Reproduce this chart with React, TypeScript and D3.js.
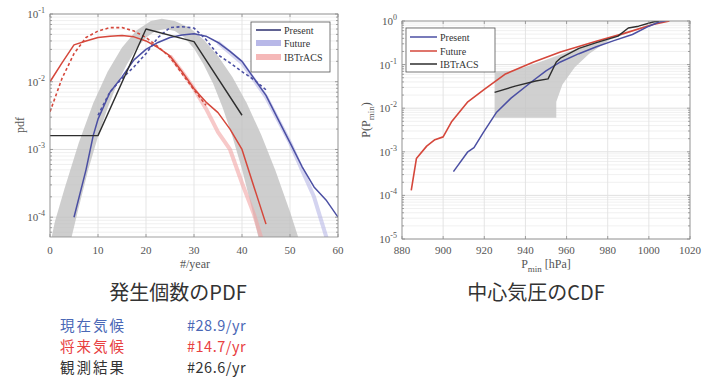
import React from 'react';
import * as d3 from 'd3';

// ---- left panel: pdf of yearly counts ----
const pdfXTicks = [0, 10, 20, 30, 40, 50, 60];
const pdfYTicks = [1e-4, 1e-3, 1e-2, 1e-1];
const pdfYExp = ['-4', '-3', '-2', '-1'];

const presentPdf: [number, number][] = [
  [5, 1.0e-4], [7.5, 5.0e-4], [9, 1.6e-3], [10, 2.8e-3], [12.5, 7.0e-3], [15, 0.0118],
  [17.5, 0.021], [20, 0.03], [22.5, 0.038], [25, 0.045], [27.5, 0.049], [30, 0.051],
  [32.5, 0.047], [35, 0.038], [37.5, 0.028], [40, 0.02], [42.5, 0.0112], [45, 6.3e-3],
  [47.5, 2.8e-3], [50, 1.26e-3], [52.5, 5.6e-4], [55, 2.8e-4], [57.5, 1.8e-4], [60, 1.0e-4],
];
const presentPdfDash: [number, number][] = [
  [10, 3.2e-3], [12.5, 7.1e-3], [15, 0.0112], [17.5, 0.0166], [20, 0.026], [22.5, 0.045],
  [25, 0.063], [27.5, 0.065], [30, 0.062], [32.5, 0.042], [35, 0.025], [37.5, 0.019],
  [40, 0.0141], [42.5, 0.0107], [45, 7.6e-3],
];
const futurePdf: [number, number][] = [
  [0, 0.01], [2.5, 0.019], [5, 0.035], [7.5, 0.04], [10, 0.045], [12.5, 0.047], [15, 0.048],
  [17.5, 0.046], [20, 0.04], [22.5, 0.032], [25, 0.024], [27.5, 0.0141], [30, 7.9e-3],
  [32.5, 5.0e-3], [35, 3.5e-3], [37.5, 2.0e-3], [40, 1.0e-3], [42.5, 2.8e-4], [45, 7.9e-5],
];
const futurePdfDash: [number, number][] = [
  [0, 3.6e-3], [2.5, 0.0112], [5, 0.026], [7.5, 0.045], [10, 0.056], [12.5, 0.063], [15, 0.063],
  [17.5, 0.056], [20, 0.045], [22.5, 0.033], [25, 0.023], [27.5, 0.0132], [30, 7.6e-3], [32.5, 4.5e-3],
];
const futurePdfFaint: [number, number][] = [
  [25, 0.024], [27.5, 0.0141], [30, 7.9e-3], [32.5, 4.0e-3], [35, 1.8e-3], [37.5, 1.0e-3],
  [40, 3.2e-4], [42.5, 1.1e-4], [44, 5.0e-5],
];
const presentPdfFaint: [number, number][] = [
  [35, 0.038], [40, 0.019], [45, 6.0e-3], [50, 1.26e-3], [52.5, 5.0e-4], [55, 2.0e-4], [57.6, 5.0e-5],
];
const obsPdf: [number, number][] = [[0, 1.6e-3], [10, 1.6e-3], [20, 0.06], [30, 0.039], [40, 3.2e-3]];

const bandOuter: [number, number][] = [
  [0.35, 5.1e-5], [1, 8.5e-5], [3, 2.6e-4], [6, 1.26e-3], [9, 4.8e-3], [12, 0.014], [15, 0.032],
  [18, 0.057], [21, 0.079], [23.3, 0.085], [26, 0.079], [29, 0.063], [32, 0.042], [35, 0.024],
  [38, 0.0117], [41, 4.8e-3], [44, 1.65e-3], [47, 4.8e-4], [50, 1.2e-4], [51.7, 5.1e-5],
];
const bandInner: [number, number][] = [
  [4.5, 5.1e-5], [6, 1.4e-4], [8, 5.1e-4], [10, 1.55e-3], [12, 4.1e-3], [14, 9.3e-3], [16, 0.018],
  [18, 0.031], [20, 0.045], [22, 0.056], [24, 0.06], [26, 0.056], [28, 0.045], [30, 0.031],
  [32, 0.018], [34, 9.3e-3], [36, 4.1e-3], [38, 1.55e-3], [40, 5.1e-4], [42, 1.4e-4], [43.4, 5.1e-5],
];

// ---- right panel: cdf of central pressure ----
const cdfXTicks = [880, 900, 920, 940, 960, 980, 1000, 1020];
const cdfYTicks = [1e-5, 1e-4, 1e-3, 1e-2, 1e-1, 1];
const cdfYExp = ['-5', '-4', '-3', '-2', '-1', '0'];

const presentCdf: [number, number][] = [
  [905, 3.5e-4], [912, 1.0e-3], [915, 1.25e-3], [919.5, 2.75e-3], [926, 8.1e-3], [933, 0.017],
  [943.5, 0.042], [950, 0.072], [957, 0.115], [966, 0.178], [974.5, 0.257], [983, 0.355],
  [992, 0.49], [1000, 0.76], [1005, 0.95], [1008, 1],
];
const futureCdf: [number, number][] = [
  [884.5, 1.3e-4], [887, 7e-4], [892, 1.35e-3], [896, 1.9e-3], [900, 2.2e-3], [904, 4.8e-3],
  [912, 0.014], [920, 0.027], [930, 0.06], [944, 0.115], [957, 0.195], [974, 0.34], [988, 0.52],
  [1002, 0.83], [1010, 1],
];
const obsCdf: [number, number][] = [
  [925, 0.023], [935, 0.032], [945, 0.042], [951, 0.047], [955, 0.115], [957, 0.14], [966, 0.235],
  [974.5, 0.32], [985, 0.45], [990, 0.69], [995, 0.76], [1002, 0.95], [1005, 1],
];
const cdfShadeTop: [number, number][] = [
  [925, 0.07], [933, 0.072], [940, 0.088], [948, 0.12], [957, 0.17], [966, 0.24], [975, 0.33],
  [985, 0.45], [995, 0.68], [1003, 0.95],
];
const cdfShadeBottom: [number, number][] = [
  [1003, 0.95], [1000, 0.83], [992, 0.575], [981, 0.37], [971, 0.178], [964, 0.087], [958, 0.035],
  [955, 0.014], [955, 0.006], [925, 0.006],
];

const summaryNames = ['現在気候', '将来気候', '観測結果'];
const summaryValues = ['#28.9/yr', '#14.7/yr', '#26.6/yr'];
const summaryColors = ['#4a68b6', '#e8403f', '#333333'];

const serif = '"Liberation Serif", "DejaVu Serif", serif';
const jp = '"Noto Sans CJK JP", "Noto Sans", sans-serif';
const BLUE = '#4b4fa3';
const RED = '#d5473b';
const DARK = '#2e2e2e';

export default function App() {
  // left scales
  const xL = d3.scaleLinear().domain([0, 60]).range([50, 338]);
  const yL = d3.scaleLog().domain([5.1e-5, 0.1]).range([237, 14]);
  // right scales
  const xR = d3.scaleLinear().domain([880, 1020]).range([402, 690]);
  const yR = d3.scaleLog().domain([1e-5, 1]).range([239, 21]);

  const lineL = d3.line<[number, number]>().x(d => xL(d[0])).y(d => yL(d[1]));
  const lineR = d3.line<[number, number]>().x(d => xR(d[0])).y(d => yR(d[1]));

  const bandPath = lineL([...bandOuter, ...bandInner.slice().reverse()]) + 'Z';
  const shadePath = lineR([...cdfShadeTop, ...cdfShadeBottom]) + 'Z';

  const isDecade = (v: number) => Math.abs(Math.log10(v) - Math.round(Math.log10(v))) < 1e-6;

  const grid = (
    x: d3.ScaleLinear<number, number>,
    y: d3.ScaleLogarithmic<number, number>,
    xTicks: number[],
  ) => {
    const [x0, x1] = x.range();
    const [y0, y1] = y.range();
    const minor = y.ticks().filter(v => !isDecade(v));
    const major = y.ticks().filter(isDecade);
    return (
      <g>
        <rect x={x0} y={y1} width={x1 - x0} height={y0 - y1} fill="#fff" />
        {minor.map((v, i) => (
          <line key={'m' + i} x1={x0} x2={x1} y1={y(v)} y2={y(v)} stroke="#ececec" strokeWidth={0.8} />
        ))}
        {major.map((v, i) => (
          <line key={'M' + i} x1={x0} x2={x1} y1={y(v)} y2={y(v)} stroke="#dcdcdc" strokeWidth={0.9} />
        ))}
        {xTicks.map((v, i) => (
          <line key={'v' + i} x1={x(v)} x2={x(v)} y1={y0} y2={y1} stroke="#e2e2e2" strokeWidth={0.9} />
        ))}
      </g>
    );
  };

  const frame = (
    x: d3.ScaleLinear<number, number>,
    y: d3.ScaleLogarithmic<number, number>,
    xTicks: number[],
  ) => {
    const [x0, x1] = x.range();
    const [y0, y1] = y.range();
    return (
      <g stroke="#8a8a8a" strokeWidth={0.8} fill="none">
        <rect x={x0} y={y1} width={x1 - x0} height={y0 - y1} />
        {xTicks.map((v, i) => (
          <g key={'t' + i}>
            <line x1={x(v)} x2={x(v)} y1={y0} y2={y0 - 3} />
            <line x1={x(v)} x2={x(v)} y1={y1} y2={y1 + 3} />
          </g>
        ))}
        {y.ticks().map((v, i) => (
          <g key={'y' + i}>
            <line x1={x0} x2={x0 + (isDecade(v) ? 3 : 2)} y1={y(v)} y2={y(v)} />
            <line x1={x1} x2={x1 - (isDecade(v) ? 3 : 2)} y1={y(v)} y2={y(v)} />
          </g>
        ))}
      </g>
    );
  };

  return (
    <svg width={716} height={378} style={{ position: 'absolute', left: 0, top: 0, background: '#fff' }}>
      <defs>
        <clipPath id="clipL">
          <rect x={50} y={14} width={288} height={223} />
        </clipPath>
        <clipPath id="clipR">
          <rect x={402} y={21} width={288} height={218} />
        </clipPath>
      </defs>

      {/* ---------- left panel ---------- */}
      {grid(xL, yL, pdfXTicks)}
      <g clipPath="url(#clipL)" fill="none" strokeLinejoin="round">
        <path d={bandPath} fill="#bdbdbd" fillOpacity={0.75} stroke="none" />
        <path d={lineL(futurePdfFaint) || ''} stroke="#f2a5a5" strokeOpacity={0.6} strokeWidth={4} />
        <path d={lineL(presentPdfFaint) || ''} stroke="#b7b7e6" strokeOpacity={0.6} strokeWidth={4} />
        <path d={lineL(futurePdfDash) || ''} stroke={RED} strokeWidth={1.6} strokeDasharray="3,2.5" />
        <path d={lineL(presentPdfDash) || ''} stroke={BLUE} strokeWidth={1.6} strokeDasharray="3,2.5" />
        <path d={lineL(futurePdf) || ''} stroke={RED} strokeWidth={1.5} />
        <path d={lineL(presentPdf) || ''} stroke={BLUE} strokeWidth={1.5} />
        <path d={lineL(obsPdf) || ''} stroke={DARK} strokeWidth={1.4} />
      </g>
      {frame(xL, yL, pdfXTicks)}
      <g fontFamily={serif} fontSize={11} fill="#555">
        {pdfXTicks.map(v => (
          <text key={v} x={xL(v)} y={254} textAnchor="middle">{v}</text>
        ))}
        {pdfYTicks.map((v, i) => (
          <text key={v} x={45} y={yL(v) + 4} textAnchor="end">
            10<tspan dy={-5} fontSize={8}>{pdfYExp[i]}</tspan>
          </text>
        ))}
        <text x={195} y={268} textAnchor="middle" fontSize={12}>#/year</text>
        <text transform="translate(24,125) rotate(-90)" textAnchor="middle" fontSize={12}>pdf</text>
      </g>
      {/* left legend */}
      <g fontFamily={serif} fontSize={10} fill="#333">
        <rect x={251} y={22} width={79} height={50} fill="#fff" stroke="#555" strokeWidth={0.8} />
        <line x1={256} x2={281} y1={30} y2={30} stroke="#2b2e6e" strokeWidth={1.5} />
        <line x1={256} x2={281} y1={43} y2={43} stroke="#b8b8e8" strokeWidth={6} />
        <line x1={256} x2={281} y1={57} y2={57} stroke="#f5b8b8" strokeWidth={6} />
        <text x={284} y={33.5}>Present</text>
        <text x={284} y={46.5}>Future</text>
        <text x={284} y={60.5}>IBTrACS</text>
      </g>

      {/* ---------- right panel ---------- */}
      {grid(xR, yR, cdfXTicks)}
      <g clipPath="url(#clipR)" fill="none" strokeLinejoin="round">
        <path d={shadePath} fill="#c4c4c4" fillOpacity={0.8} stroke="none" />
        <path d={lineR(futureCdf) || ''} stroke={RED} strokeWidth={1.6} />
        <path d={lineR(presentCdf) || ''} stroke={BLUE} strokeWidth={1.5} />
        <path d={lineR(obsCdf) || ''} stroke={DARK} strokeWidth={1.4} />
      </g>
      {frame(xR, yR, cdfXTicks)}
      <g fontFamily={serif} fontSize={11} fill="#555">
        {cdfXTicks.map(v => (
          <text key={v} x={xR(v)} y={254} textAnchor="middle">{v}</text>
        ))}
        {cdfYTicks.map((v, i) => (
          <text key={v} x={397} y={yR(v) + 4} textAnchor="end">
            10<tspan dy={-5} fontSize={8}>{cdfYExp[i]}</tspan>
          </text>
        ))}
        <text x={546} y={268} textAnchor="middle" fontSize={12}>
          P<tspan dy={4} fontSize={9}>min</tspan><tspan dy={-4}> [hPa]</tspan>
        </text>
        <text transform="translate(370,120) rotate(-90)" textAnchor="middle" fontSize={12}>
          P(P<tspan dy={4} fontSize={9}>min</tspan><tspan dy={-4}>)</tspan>
        </text>
      </g>
      {/* right legend */}
      <g fontFamily={serif} fontSize={10} fill="#333">
        <rect x={406} y={28} width={89} height={44} fill="#fff" stroke="#555" strokeWidth={0.8} />
        <line x1={410} x2={437} y1={37} y2={37} stroke={BLUE} strokeWidth={1.5} />
        <line x1={410} x2={437} y1={51} y2={51} stroke={RED} strokeWidth={1.5} />
        <line x1={410} x2={437} y1={64} y2={64} stroke={DARK} strokeWidth={1.5} />
        <text x={440} y={40.5}>Present</text>
        <text x={440} y={54.5}>Future</text>
        <text x={440} y={67.5}>IBTrACS</text>
      </g>

      {/* ---------- captions ---------- */}
      <g fontFamily={jp} fill="#333">
        <text x={178} y={300} textAnchor="middle" fontSize={20}>発生個数のPDF</text>
        <text x={536} y={300} textAnchor="middle" fontSize={20}>中心気圧のCDF</text>
        {summaryNames.map((name, i) => (
          <g key={name} fontSize={14.5} fill={summaryColors[i]}>
            <text x={60} y={331 + i * 21} letterSpacing={2}>{name}</text>
            <text x={187} y={331 + i * 21} letterSpacing={0.5}>{summaryValues[i]}</text>
          </g>
        ))}
      </g>
    </svg>
  );
}
